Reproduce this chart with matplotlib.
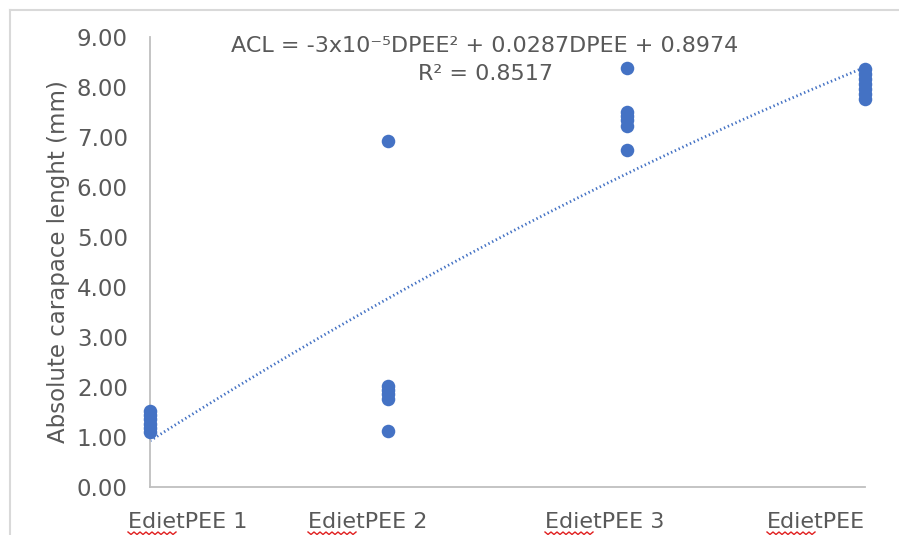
import numpy as np
import matplotlib.pyplot as plt
from matplotlib.lines import Line2D

# absolute carapace length per diet group (mm)
groups = ["EdietPEE 1", "EdietPEE 2", "EdietPEE 3", "EdietPEE"]
acl_g1 = [1.10, 1.18, 1.27, 1.36, 1.45, 1.52]
acl_g2 = [6.92, 2.02, 1.94, 1.86, 1.76, 1.12]
acl_g3 = [8.38, 7.50, 7.42, 7.34, 7.22, 6.75]
acl_g4 = [8.36, 8.26, 8.16, 8.06, 7.96, 7.86, 7.76]
yticks = [0, 1, 2, 3, 4, 5, 6, 7, 8, 9]

blue = "#4472C4"
grey = "#595959"

xs, ys = [], []
for i, vals in enumerate([acl_g1, acl_g2, acl_g3, acl_g4]):
    xs += [i] * len(vals)
    ys += vals
xs = np.array(xs, dtype=float)
ys = np.array(ys)

fig = plt.figure(figsize=(8.99, 5.35), dpi=100)
ax = fig.add_axes([150 / 899, 1 - 487 / 535, 715 / 899, 450 / 535])

ax.scatter(xs, ys, s=95, color=blue, zorder=3, clip_on=False, linewidths=0)

# 2nd order polynomial trendline
coef = np.polyfit(xs, ys, 2)
xt = np.linspace(0, 3, 200)
ax.plot(xt, np.polyval(coef, xt), color=blue, lw=2.0, linestyle=(0, (0.5, 1.0)),
        zorder=2, clip_on=False)

ax.set_xlim(0, 3)
ax.set_ylim(0, 9)
ax.set_yticks(yticks)
ax.set_yticklabels([f"{v:.2f}" for v in yticks])
ax.set_xticks([])
ax.tick_params(axis="y", length=0, pad=16, labelsize=16.5, labelcolor=grey)
for s in ["top", "right"]:
    ax.spines[s].set_visible(False)
for s in ["left", "bottom"]:
    ax.spines[s].set_color("#BFBFBF")
    ax.spines[s].set_linewidth(1.3)
ax.set_ylabel("Absolute carapace lenght (mm)", fontsize=16.5, color=grey, labelpad=5)

fig.text(485 / 899, 1 - 46 / 535, "ACL = -3x10\u207b\u2075DPEE\u00b2 + 0.0287DPEE + 0.8974",
         ha="center", va="center", fontsize=16, color=grey)
fig.text(485 / 899, 1 - 74 / 535, "R\u00b2 = 0.8517",
         ha="center", va="center", fontsize=16, color=grey)

# category labels under the axis
label_x = [128, 308, 545, 767]
labels = []
for lx, name in zip(label_x, groups):
    labels.append(fig.text(lx / 899, 1 - 522 / 535, name, ha="left", va="center",
                           fontsize=16, color=grey))

# spell-check squiggles under "Ediet"
fig.canvas.draw()
r = fig.canvas.get_renderer()
for t in labels:
    bb = t.get_window_extent(r)
    x0 = bb.x0
    n = 16
    zx = x0 + np.arange(n + 1) * 3.0
    zy = np.where(np.arange(n + 1) % 2 == 0, 3.0, 0.5)
    fig.add_artist(Line2D(zx / 899, zy / 535, color="#E02020", lw=1.0))

# outer chart frame
fig.add_artist(Line2D([10 / 899, 10 / 899], [0, 1 - 10 / 535], color="#D9D9D9", lw=1.5))
fig.add_artist(Line2D([10 / 899, 1], [1 - 10 / 535, 1 - 10 / 535], color="#D9D9D9", lw=1.5))

fig.savefig("out.png", dpi=100)
